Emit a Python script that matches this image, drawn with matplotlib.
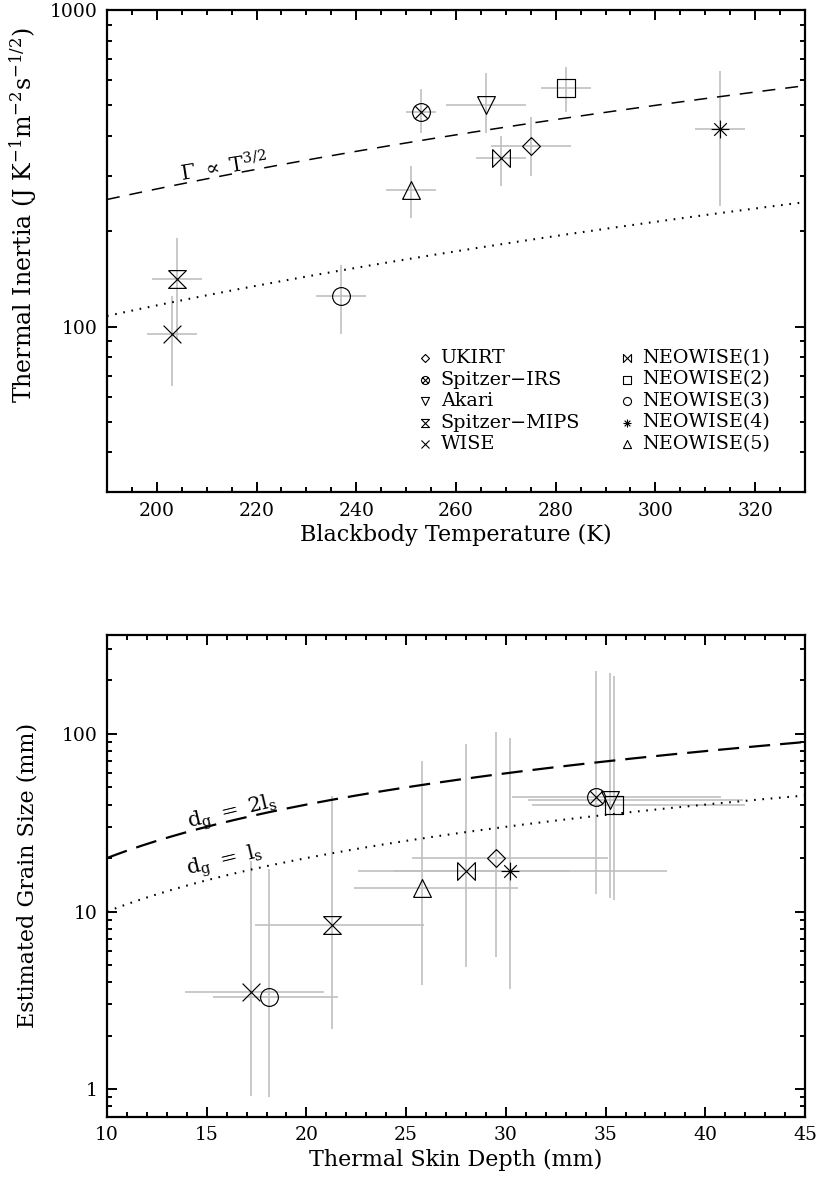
import numpy as np
import matplotlib
matplotlib.use("Agg")
from matplotlib import pyplot as plt
from matplotlib.path import Path
from matplotlib.ticker import MultipleLocator, LogLocator, FixedFormatter, FixedLocator

plt.rcParams['font.family'] = ['DejaVu Serif']
plt.rcParams['mathtext.fontset'] = 'dejavuserif'

# ---- data ----
names = ['UKIRT', 'Spitzer\u2212IRS', 'Akari', 'Spitzer\u2212MIPS', 'WISE',
         'NEOWISE(1)', 'NEOWISE(2)', 'NEOWISE(3)', 'NEOWISE(4)', 'NEOWISE(5)']

# top panel: blackbody temperature vs thermal inertia
t_bb = [275, 253, 266, 204, 203, 269, 282, 237, 313, 251]
t_err = [8, 3, 8, 5, 5, 5, 5, 5, 5, 5]
gamma = [371, 477, 501, 141, 95, 340, 569, 125, 421, 270]
gamma_lo = [71, 67, 93, 50, 30, 61, 92, 30, 181, 50]
gamma_hi = [89, 86, 130, 50, 30, 61, 93, 31, 222, 51]

# bottom panel: thermal skin depth vs grain size
skin = [29.5, 34.5, 35.2, 21.3, 17.2, 28.0, 35.4, 18.1, 30.2, 25.8]
skin_min = [25.3, 30.3, 31.1, 17.4, 13.9, 22.6, 31.3, 15.3, 24.4, 22.4]
skin_max = [35.1, 40.8, 41.9, 25.9, 20.9, 33.2, 42.0, 21.6, 38.1, 30.6]
grain = [20.0, 43.9, 42.6, 8.35, 3.52, 17.0, 39.7, 3.30, 17.0, 13.5]
grain_min = [5.56, 12.6, 11.9, 2.17, 0.92, 4.86, 11.6, 0.90, 3.68, 3.87]
grain_max = [102, 226, 220, 44.8, 19.2, 87.9, 211, 17.4, 94.6, 70.3]

# model lines
gamma_hi_norm = 252.0    # dashed curve at T = 190 K
gamma_lo_norm = 108.0    # dotted curve at T = 190 K
t_line = np.linspace(190, 330, 200)
ls_line = np.linspace(10, 45, 200)


# ---- IDL-like plot symbols ----
def poly(pts, closed=False):
    pts = list(pts)
    if closed:
        pts = pts + [pts[0]]
    return Path(pts)


a = 0.7071
circle_x = Path.make_compound_path(
    Path.unit_circle(),
    Path([(-a, -a), (a, a)], [Path.MOVETO, Path.LINETO]),
    Path([(-a, a), (a, -a)], [Path.MOVETO, Path.LINETO]))
asterisk = Path([(0, -1), (0, 1), (-1, 0), (1, 0), (-a, -a), (a, a), (-a, a), (a, -a)],
                [Path.MOVETO, Path.LINETO] * 4)
symbols = [
    poly([(0, 1), (1, 0), (0, -1), (-1, 0)], True),             # diamond
    circle_x,                                                    # circled x
    poly([(-1, 1), (1, 1), (0, -1)], True),                      # down triangle
    poly([(-1, 1), (1, 1), (-1, -1), (1, -1), (-1, 1)]),          # hourglass
    Path([(-1, -1), (1, 1), (-1, 1), (1, -1)],
         [Path.MOVETO, Path.LINETO, Path.MOVETO, Path.LINETO]),  # x
    poly([(-1, 1), (-1, -1), (1, 1), (1, -1), (-1, 1)]),          # bowtie
    poly([(-1, -1), (1, -1), (1, 1), (-1, 1)], True),            # square
    Path.unit_circle(),                                          # circle
    asterisk,                                                    # asterisk
    poly([(-1, -1), (1, -1), (0, 1)], True),                     # triangle
]

ebar_col = '#c0c0c0'
msize = 12.8
lab_fs = 16


def style_axes(ax):
    for s in ax.spines.values():
        s.set_linewidth(1.6)
    ax.tick_params(which='both', direction='in', top=True, right=True,
                   labelsize=13.5, width=1.4, pad=7)
    ax.tick_params(which='major', length=7.5)
    ax.tick_params(which='minor', length=3.8)


fig = plt.figure(figsize=(8.19, 11.83), dpi=100)
ax1 = fig.add_axes([0.1306, 0.5841, 0.8523, 0.4074])
ax2 = fig.add_axes([0.1306, 0.0560, 0.8523, 0.4072])

# ---- top panel ----
ax1.errorbar(t_bb, gamma, xerr=t_err, yerr=[gamma_lo, gamma_hi], fmt='none',
             ecolor=ebar_col, elinewidth=1.2, capsize=0, zorder=1)
for i in range(len(names)):
    ax1.plot(t_bb[i], gamma[i], ls='none', marker=symbols[i], ms=msize,
             mfc='none', mec='k', mew=0.85, zorder=3)
ax1.plot(t_line, gamma_hi_norm * (t_line / 190.0) ** 1.5, color='k', lw=1.1,
         ls=(0, (8.5, 6.5)), zorder=2)
ax1.plot(t_line, gamma_lo_norm * (t_line / 190.0) ** 1.5, color='k', lw=1.5,
         ls=(0, (0.8, 3.2)), zorder=2)
ax1.text(213.5, 318, r'$\Gamma\ \propto\ \mathrm{T}^{3/2}$', fontsize=15,
         rotation=9, ha='center', va='center')

ax1.set_xlim(190, 330)
ax1.set_yscale('log')
ax1.set_ylim(30, 1000)
ax1.xaxis.set_major_locator(MultipleLocator(20))
ax1.xaxis.set_minor_locator(MultipleLocator(5))
ax1.yaxis.set_major_locator(FixedLocator([100, 1000]))
ax1.yaxis.set_major_formatter(FixedFormatter(['100', '1000']))
ax1.yaxis.set_minor_locator(LogLocator(subs=np.arange(2, 10)))
ax1.yaxis.set_minor_formatter(plt.NullFormatter())
style_axes(ax1)
ax1.set_xlabel('Blackbody Temperature (K)', fontsize=lab_fs, labelpad=3)
ax1.set_ylabel(r'Thermal Inertia (J K$^{-1}$m$^{-2}$s$^{-1/2}$)', fontsize=17)
ax1.yaxis.set_label_coords(-0.098, 0.575)

# legend drawn by hand, two columns of five
for i, name in enumerate(names):
    col, row = divmod(i, 5)
    xs = 0.456 + col * 0.2885
    ys = 0.278 - row * 0.0446
    ax1.plot(xs, ys, transform=ax1.transAxes, ls='none', marker=symbols[i],
             ms=5.8, mfc='none', mec='k', mew=0.8, clip_on=False)
    ax1.text(xs + 0.022, ys, name, transform=ax1.transAxes, fontsize=13.8,
             ha='left', va='center')

# ---- bottom panel ----
xerr2 = [np.subtract(skin, skin_min), np.subtract(skin_max, skin)]
yerr2 = [np.subtract(grain, grain_min), np.subtract(grain_max, grain)]
ax2.errorbar(skin, grain, xerr=xerr2, yerr=yerr2, fmt='none', ecolor=ebar_col,
             elinewidth=1.2, capsize=0, zorder=1)
for i in range(len(names)):
    ax2.plot(skin[i], grain[i], ls='none', marker=symbols[i], ms=msize,
             mfc='none', mec='k', mew=0.85, zorder=3)
ax2.plot(ls_line, 2 * ls_line, color='k', lw=1.6, ls=(0, (9.5, 4.5)), zorder=2)
ax2.plot(ls_line, ls_line, color='k', lw=1.5, ls=(0, (0.8, 3.2)), zorder=2)
ax2.text(16.3, 36.0, r'$\mathrm{d_g\ =\ 2l_s}$', fontsize=15, rotation=13.5,
         ha='center', va='center')
ax2.text(15.9, 19.2, r'$\mathrm{d_g\ =\ l_s}$', fontsize=15, rotation=13.5,
         ha='center', va='center')

ax2.set_xlim(10, 45)
ax2.set_yscale('log')
ax2.set_ylim(0.7, 360)
ax2.xaxis.set_major_locator(MultipleLocator(5))
ax2.xaxis.set_minor_locator(MultipleLocator(1))
ax2.yaxis.set_major_locator(FixedLocator([1, 10, 100]))
ax2.yaxis.set_major_formatter(FixedFormatter(['1', '10', '100']))
ax2.yaxis.set_minor_locator(LogLocator(subs=np.arange(2, 10)))
ax2.yaxis.set_minor_formatter(plt.NullFormatter())
style_axes(ax2)
ax2.set_xlabel('Thermal Skin Depth (mm)', fontsize=lab_fs, labelpad=3)
ax2.set_ylabel('Estimated Grain Size (mm)', fontsize=lab_fs)
ax2.yaxis.set_label_coords(-0.098, 0.5)

fig.savefig('out.png', dpi=100)
